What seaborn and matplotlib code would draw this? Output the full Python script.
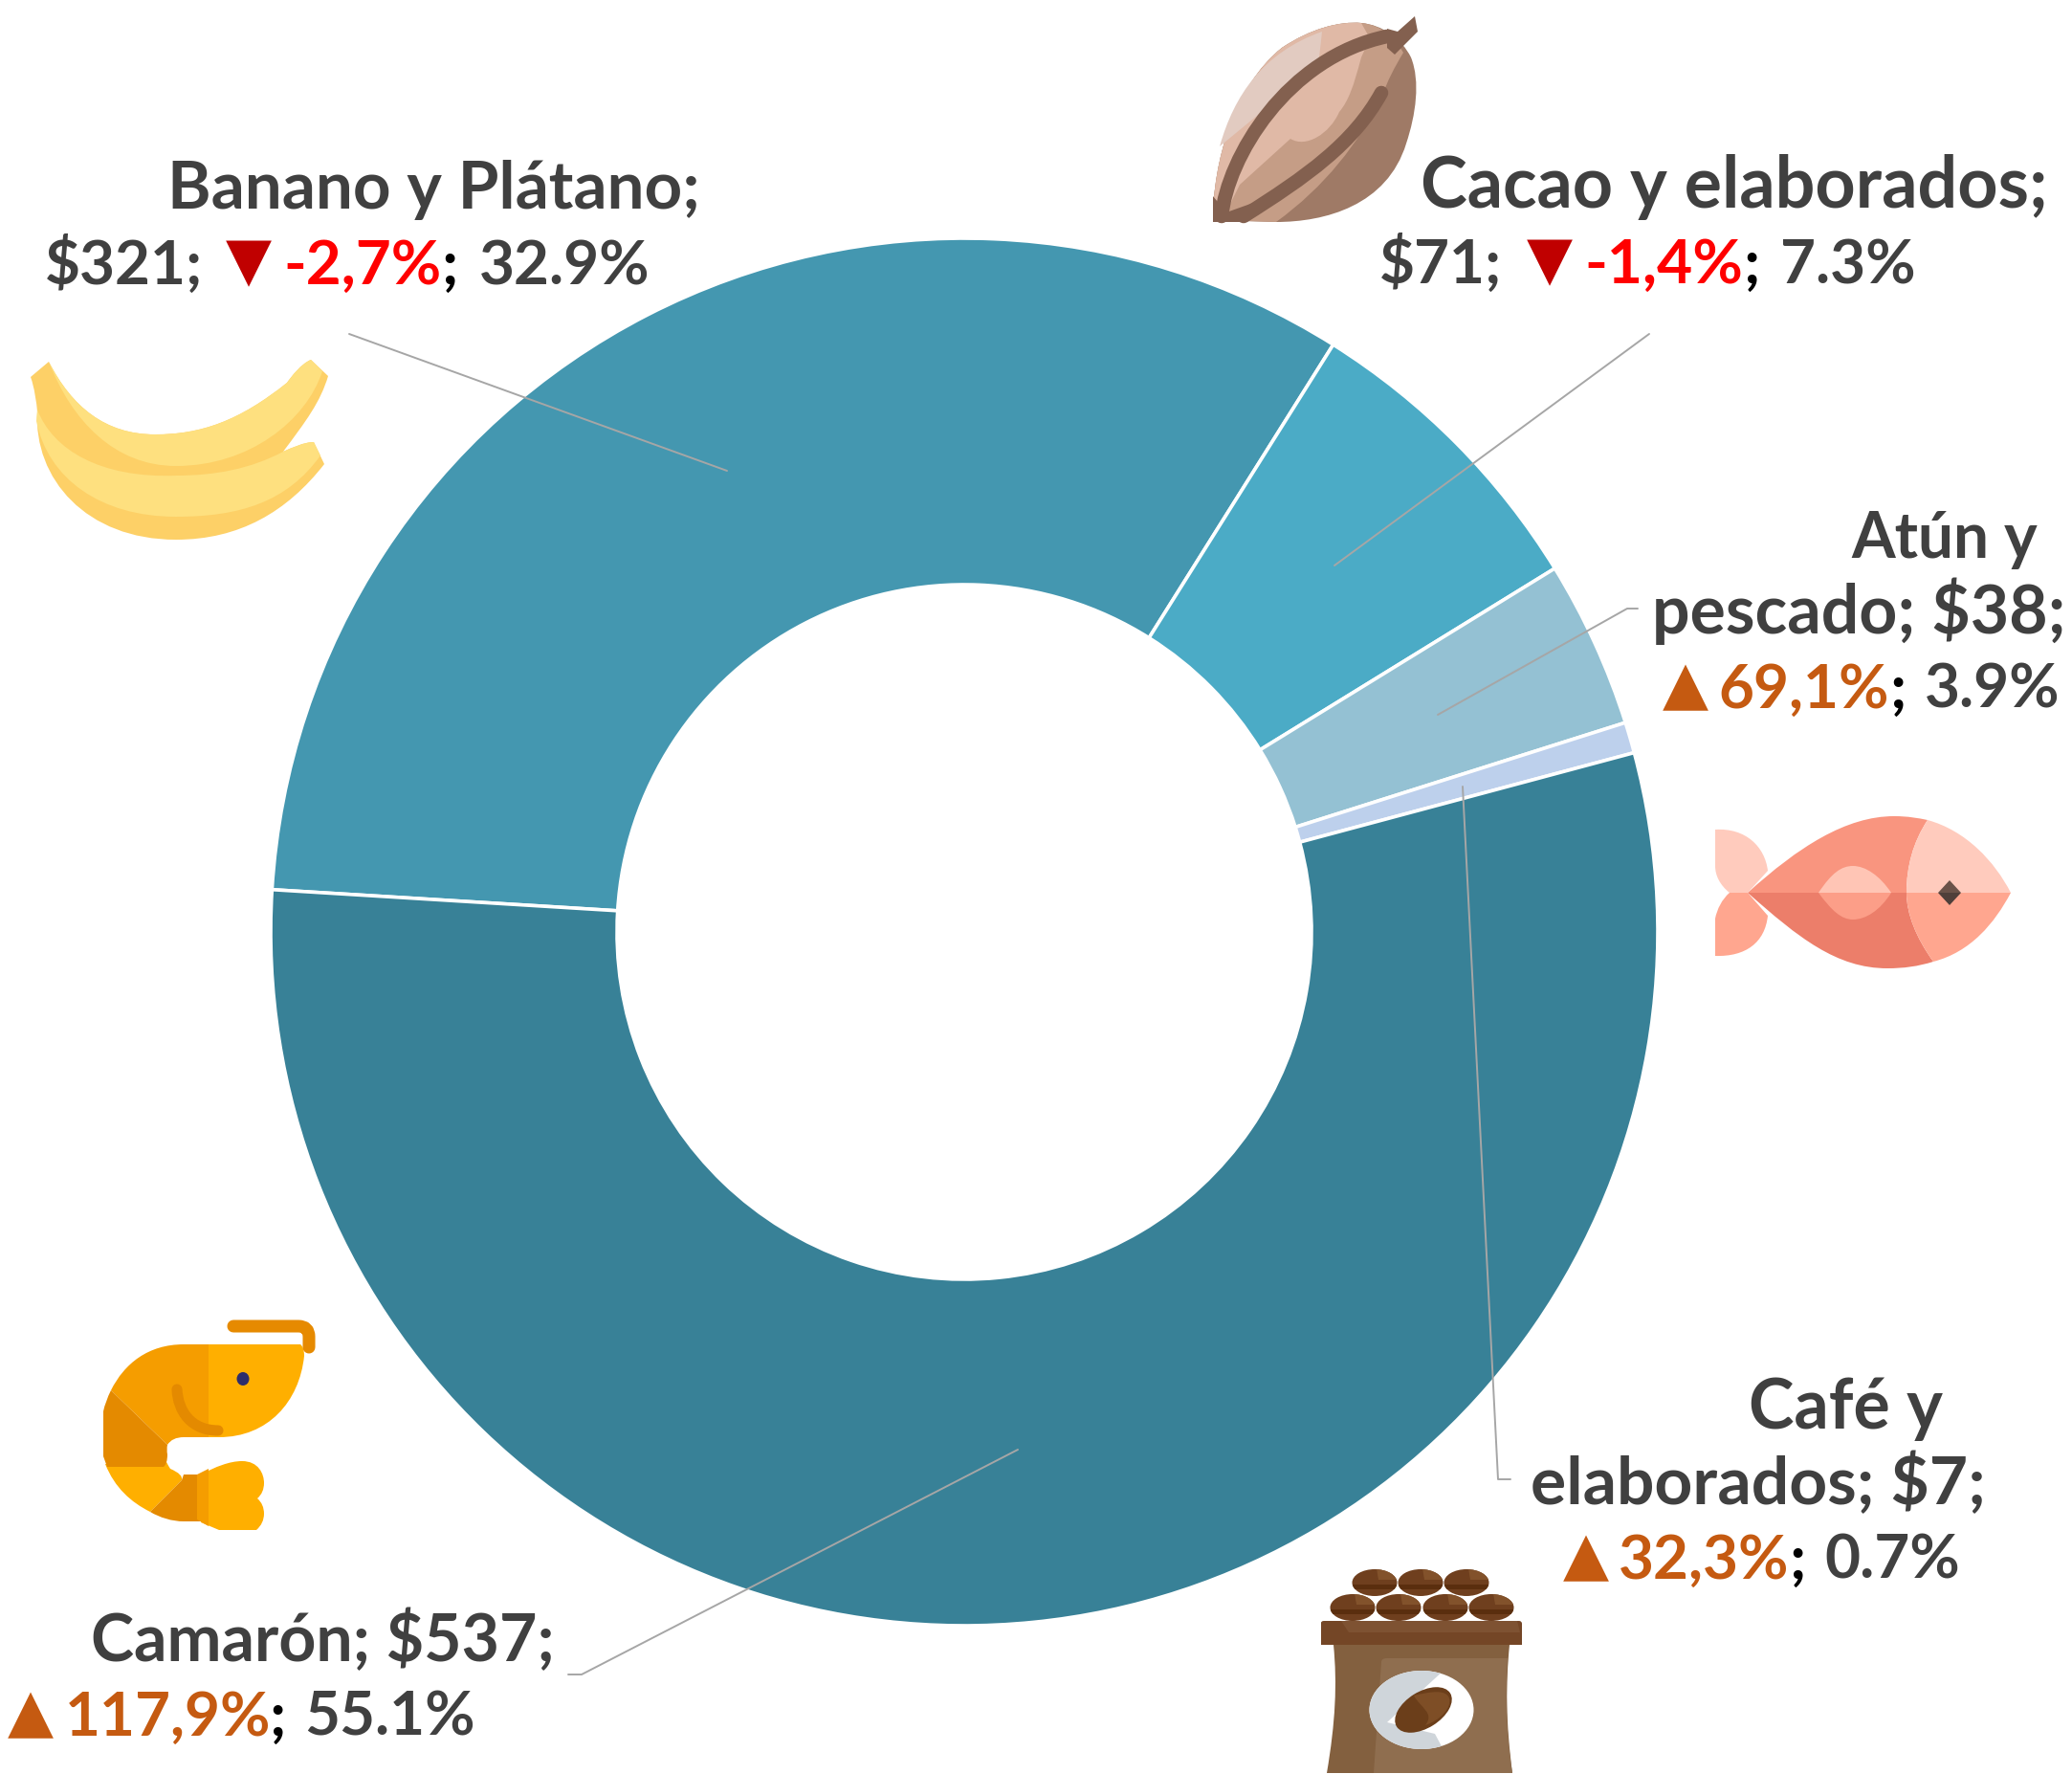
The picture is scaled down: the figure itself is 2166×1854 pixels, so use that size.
import re

import matplotlib.pyplot as plt
import seaborn as sns
from matplotlib.patches import Ellipse, PathPatch
from matplotlib.path import Path

categories = ["Banano y Plátano", "Cacao y elaborados", "Atún y pescado", "Café y elaborados", "Camarón"]
values = [321, 71, 38, 7, 537]
shares = ["32.9%", "7.3%", "3.9%", "0.7%", "55.1%"]
changes = ["-2,7%", "-1,4%", "69,1%", "32,3%", "117,9%"]
slice_colors = ["#4497B0", "#4BABC6", "#94C1D3", "#BDD0EC", "#388197"]

DARK = "#404040"
RED = "#FF0000"
RED_ARROW = "#C00000"
ORANGE = "#C55A11"
LEADER = "#A6A6A6"

FONT = "Lato"
FONT_SIZE = 46

# text runs: string, left px, right px, baseline px, colour
text_runs = [
    ("Banano y Plátano;", 175, 732, 218, DARK),
    (f"${values[0]};", 51, 208, 297, DARK),
    (changes[0], 297, 460, 297, RED),
    (";", 464, 476, 297, "black"),
    (shares[0], 502, 679, 297, DARK),
    ("Cacao y elaborados;", 1485, 2141, 217, DARK),
    (f"${values[1]};", 1447, 1566, 296, DARK),
    (changes[1], 1656, 1822, 296, RED),
    (";", 1825, 1837, 296, "black"),
    (shares[1], 1861, 2002, 296, DARK),
    ("Atún y", 1935, 2130, 583, DARK),
    (f"pescado; ${values[2]};", 1727, 2159, 662, DARK),
    (changes[2], 1797, 1975, 740, ORANGE),
    (";", 1978, 1990, 740, "black"),
    (shares[2], 2012, 2153, 740, DARK),
    ("Café y", 1828, 2031, 1493, DARK),
    (f"elaborados; ${values[3]};", 1601, 2076, 1572, DARK),
    (changes[3], 1692, 1870, 1650, ORANGE),
    (";", 1873, 1885, 1650, "black"),
    (shares[3], 1908, 2049, 1650, DARK),
    (f"Camarón; ${values[4]};", 95, 580, 1736, DARK),
    (changes[4], 69, 282, 1814, ORANGE),
    (";", 284, 296, 1814, "black"),
    (shares[4], 318, 496, 1814, DARK),
]

# arrow glyphs: glyph, centre px, baseline px, colour
arrows = [
    ("▼", 260, 297, RED_ARROW),
    ("▼", 1620, 296, RED_ARROW),
    ("▲", 1762, 740, ORANGE),
    ("▲", 1658, 1650, ORANGE),
    ("▲", 32, 1814, ORANGE),
]

leaders = [
    ([365, 760], [349, 492]),
    ([1724, 1395], [349, 591]),
    ([1712, 1701, 1503], [636, 636, 747]),
    ([1529, 1566, 1579], [822, 1546, 1546]),
    ([1064, 608, 594], [1515, 1750, 1750]),
]


def svg_path(d):
    sizes = {"M": 1, "L": 1, "Q": 2, "C": 3}
    kinds = {"M": Path.MOVETO, "L": Path.LINETO, "Q": Path.CURVE3, "C": Path.CURVE4}
    tokens = re.findall(r"[MLQCZ]|-?\d+\.?\d*", d)
    verts, codes = [], []
    i = 0
    cmd = "M"

    while i < len(tokens):
        if tokens[i] in "MLQCZ":
            cmd = tokens[i]
            i += 1
            if cmd == "Z":
                verts.append((0, 0))
                codes.append(Path.CLOSEPOLY)
            continue
        for _ in range(sizes[cmd]):
            verts.append((float(tokens[i]), float(tokens[i + 1])))
            codes.append(kinds[cmd])
            i += 2

    return Path(verts, codes)


def fill(ax, d, color, zorder=3):
    patch = PathPatch(svg_path(d), facecolor=color, edgecolor="none", lw=0, zorder=zorder)
    ax.add_patch(patch)
    return patch


def stroke(ax, d, color, width, zorder=4):
    ax.add_patch(PathPatch(svg_path(d), fill=False, edgecolor=color, lw=width,
                           capstyle="round", joinstyle="round", zorder=zorder))


def draw_banana(ax):
    fill(ax, "M32,394 L51,378 C75,425 110,454 162,454 C210,454 250,440 300,400 C305,393 315,380 325,376 "
             "L343,393 C335,420 320,440 296,472 C305,468 318,462 328,462 L339,485 "
             "C300,535 250,564 184,564 C90,564 35,500 39,430 C38,420 36,405 32,394 Z", "#FDD067")
    fill(ax, "M51,378 C75,425 110,454 162,454 C210,454 250,440 300,400 C305,393 315,380 325,376 L337,388 "
             "C320,440 260,487 184,487 C120,487 75,440 51,378 Z", "#FEE07F")
    fill(ax, "M39,428 C55,470 105,500 184,497 C225,497 262,490 296,472 C305,468 318,462 328,462 L335,476 "
             "C300,525 250,540 184,540 C105,540 50,500 38,440 Z", "#FEE07F")


def draw_cacao(ax):
    fill(ax, "M1268,230 C1268,170 1290,90 1340,50 C1370,30 1400,22 1423,24 C1445,26 1465,40 1475,60 "
             "C1485,85 1480,120 1470,150 C1450,215 1385,232 1334,232 Z", "#9F7A66")
    fill(ax, "M1268,230 C1268,170 1290,90 1340,50 C1370,30 1400,22 1423,24 C1445,26 1458,40 1467,55 "
             "C1458,70 1450,85 1445,100 C1420,150 1385,195 1334,232 Z", "#C59D86")
    fill(ax, "M1268,230 C1268,170 1290,90 1340,50 C1370,30 1400,22 1423,24 L1432,40 L1423,60 "
             "C1415,90 1410,105 1400,117 C1390,140 1365,155 1349,145 L1296,193 L1281,223 Z", "#E0B9A6")
    fill(ax, "M1275,153 C1290,100 1320,55 1382,33 C1380,50 1380,60 1376,70 Z", "#E2CBC1")
    stroke(ax, "M1277,226 C1283,165 1345,60 1450,38", "#83604F", 10.5)
    stroke(ax, "M1300,226 C1365,185 1415,150 1444,97", "#83604F", 10.5)
    fill(ax, "M1268,232 L1268,205 L1282,222 L1310,212 L1304,232 Z", "#83604F", zorder=4)
    fill(ax, "M1450,30 L1461,33 L1479,17 L1482,33 L1458,57 L1450,50 Z", "#83604F", zorder=4)


def draw_fish(ax):
    fill(ax, "M1793,867 C1825,865 1845,885 1848,910 L1827,933 L1808,933 C1798,925 1793,915 1793,905 Z", "#FFCBBD")
    fill(ax, "M1808,933 L1827,933 L1848,957 C1845,985 1825,1000 1793,999 L1793,960 C1795,950 1800,940 1808,933 Z", "#FFA68F")
    fill(ax, "M1827,933 C1880,885 1930,853 1980,853 C1995,853 2005,855 2015,857 C2000,880 1993,905 1993,933 Z", "#F9957F")
    fill(ax, "M1827,933 C1880,980 1920,1012 1973,1012 C1990,1012 2005,1010 2021,1005 C2003,980 1993,955 1993,933 Z", "#EC7E6A")
    fill(ax, "M2015,857 C2055,868 2085,900 2102,933 L1993,933 C1993,905 2000,880 2015,857 Z", "#FFCBBD")
    fill(ax, "M2021,1005 C2060,995 2085,965 2102,933 L1993,933 C1993,955 2003,980 2021,1005 Z", "#FFA68F")
    fill(ax, "M1901,933 C1915,912 1925,905 1937,905 C1950,905 1965,915 1977,933 Z", "#FFC5B5")
    fill(ax, "M1901,933 C1915,952 1925,961 1937,961 C1950,961 1965,952 1977,933 Z", "#FC9E88")
    fill(ax, "M2026,933 L2038,920 L2050,933 Z", "#6A5249")
    fill(ax, "M2026,933 L2038,946 L2050,933 Z", "#4F3F3A")


def draw_shrimp(ax):
    stroke(ax, "M244,1386 L312,1386 Q323,1386 323,1397 L323,1408", "#E68A00", 9.4)
    fill(ax, "M218,1405 L314,1405 Q318,1408 318,1417 C313,1465 280,1502 229,1502 L218,1502 Z", "#FFAF00")
    fill(ax, "M218,1405 L192,1405 C155,1405 130,1425 116,1453 L175,1510 Q180,1502 192,1502 L218,1502 Z", "#F59D00")
    # lower body first, the dark segment overlaps its top edge
    fill(ax, "M110,1530 C120,1555 137,1570 157,1580 L190,1547 Q192,1541 178,1535 Q176,1532 174,1528 Z", "#FFAF00")
    fill(ax, "M116,1453 Q110,1465 108,1475 L108,1522 L112,1533 L171,1533 Q175,1530 175,1520 Q174,1515 175,1510 Z", "#E48A00")
    fill(ax, "M157,1580 L190,1547 L192,1541 L210,1541 L210,1590 L192,1590 C180,1590 167,1586 157,1580 Z", "#E48A00")
    fill(ax, "M210,1541 C225,1533 240,1527 253,1527 C270,1527 276,1540 276,1550 Q276,1560 269,1566 "
             "Q276,1572 276,1582 Q276,1592 268,1599 L229,1599 L210,1591 Z", "#FFAF00")
    fill(ax, "M206,1541 L218,1535 L218,1595 L206,1588 Z", "#F59D00")
    stroke(ax, "M185,1452 C186,1475 200,1495 228,1495", "#E48A00", 8)
    ax.add_patch(Ellipse((254, 1441), 13, 14, facecolor="#2E2D6B", edgecolor="none", zorder=5))


def draw_coffee(ax):
    bean_rows = [([1437, 1485, 1533], 1654), ([1414, 1462, 1511, 1559], 1680)]
    for xs, y in bean_rows:
        for x in xs:
            bean = Ellipse((x, y), 47, 28, facecolor="#6F3F1E", edgecolor="none", zorder=3)
            ax.add_patch(bean)
            band = fill(ax, f"M{x - 24},{y + 2} L{x + 24},{y + 2} L{x + 24},{y + 7} L{x - 24},{y + 7} Z", "#5A2E0E", zorder=4)
            band.set_clip_path(bean)
            shine = fill(ax, f"M{x + 2},{y - 15} L{x + 24},{y - 15} L{x + 24},{y - 3} L{x + 4},{y - 3} Z", "#82522B", zorder=4)
            shine.set_clip_path(bean)

    fill(ax, "M1394,1719 L1578,1719 C1574,1760 1574,1800 1581,1853 L1387,1853 C1396,1800 1398,1760 1394,1719 Z", "#83603F")
    fill(ax, "M1444,1737 Q1444,1733 1450,1733 L1576,1733 C1574,1770 1574,1810 1581,1853 L1436,1853 Z", "#8F6E4F", zorder=4)
    fill(ax, "M1381,1696 Q1381,1694 1384,1694 L1588,1694 Q1591,1694 1591,1697 L1591,1719 L1381,1719 Z", "#744626", zorder=4)
    fill(ax, "M1402,1694 L1586,1694 L1589,1706 L1410,1706 Z", "#7E5232", zorder=5)

    label = Ellipse((1486, 1787), 109, 82, facecolor="white", edgecolor="none", zorder=5)
    ax.add_patch(label)
    grey = fill(ax, "M1425,1740 L1500,1740 L1510,1745 L1450,1800 L1500,1812 L1515,1840 L1425,1840 Z", "#CFD5DA", zorder=6)
    grey.set_clip_path(label)
    ax.add_patch(Ellipse((1488, 1787), 66, 38, angle=-32, facecolor="#6B3E1A", edgecolor="none", zorder=7))
    fill(ax, "M1478,1772 C1495,1768 1512,1765 1515,1775 C1518,1785 1505,1798 1490,1803 C1500,1790 1485,1785 1478,1772 Z",
         "#7E4E26", zorder=8)


def main():
    sns.set_theme(style="white")
    plt.rcParams["font.family"] = [FONT, "DejaVu Sans"]

    fig, ax = plt.subplots(figsize=(21.66, 18.54), dpi=100)
    fig.subplots_adjust(left=0, right=1, bottom=0, top=1)

    # y axis runs downwards, so the pie angles are mirrored
    ax.pie(values, colors=sns.color_palette(slice_colors), center=(1008, 974), radius=725,
           startangle=-176.5, counterclock=True,
           wedgeprops={"width": 362, "edgecolor": "white", "linewidth": 2.6})

    ax.set_xlim(0, 2166)
    ax.set_ylim(1854, 0)
    ax.set_aspect("equal")
    ax.axis("off")

    for xs, ys in leaders:
        ax.plot(xs, ys, color=LEADER, lw=1.4, zorder=2)

    renderer = fig.canvas.get_renderer()

    for text, left, right, base, color in text_runs:
        label = ax.text((left + right) / 2, base, text, color=color, fontsize=FONT_SIZE, fontweight="bold",
                        ha="center", va="baseline", zorder=6)
        # the original face is wider than Lato, so widen a run to its measured span, never shrink it
        if len(text) > 1:
            width = label.get_window_extent(renderer).width
            label.set_fontsize(FONT_SIZE * max(1, (right - left) / width))

    for glyph, x, base, color in arrows:
        ax.text(x, base - 5, glyph, color=color, fontsize=45, family="DejaVu Sans",
                ha="center", va="baseline", zorder=6)

    draw_banana(ax)
    draw_cacao(ax)
    draw_fish(ax)
    draw_shrimp(ax)
    draw_coffee(ax)

    fig.savefig("out.png", dpi=100, facecolor="white")
    plt.close(fig)


if __name__ == "__main__":
    main()
